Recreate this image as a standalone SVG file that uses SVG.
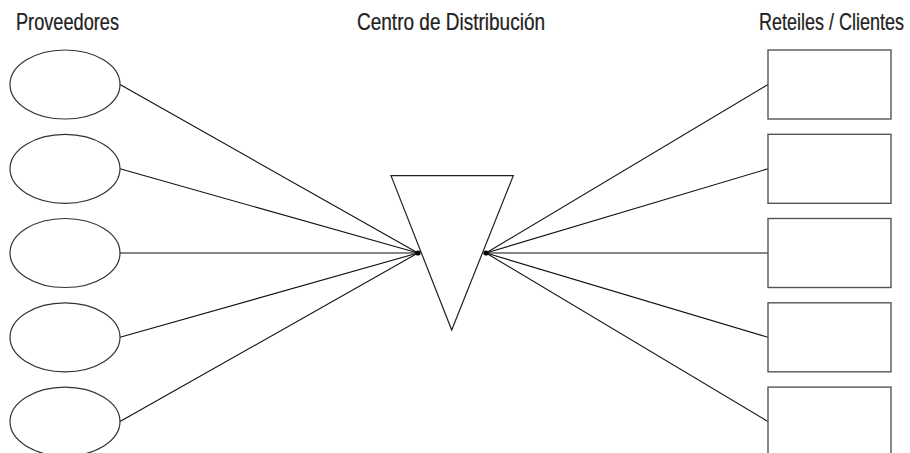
<svg xmlns="http://www.w3.org/2000/svg" width="910" height="453" viewBox="0 0 910 453">
<style>
.t{font-family:"Liberation Sans",Arial,sans-serif;font-size:23px;fill:#222;stroke:#222;stroke-width:0.25}
.e{fill:#fff;stroke:#333;stroke-width:1.2}
.r{fill:#fff;stroke:#555;stroke-width:1.4}
.c{stroke:#111;stroke-width:1.1;fill:none}
.d{fill:#000}
</style>
<rect width="910" height="453" fill="#fff"/>
<text class="t" transform="translate(16,30) scale(0.79,1)" textLength="130.4" lengthAdjust="spacingAndGlyphs">Proveedores</text>
<text class="t" transform="translate(357,30) scale(0.79,1)" textLength="238" lengthAdjust="spacingAndGlyphs">Centro de Distribución</text>
<text class="t" transform="translate(759,30) scale(0.79,1)" textLength="183.5" lengthAdjust="spacingAndGlyphs">Reteiles / Clientes</text>
<g id="connectors">
<line class="c" x1="120" y1="84.5" x2="418" y2="253"/>
<line class="c" x1="120" y1="168.8" x2="418" y2="253"/>
<line class="c" x1="120" y1="253" x2="418" y2="253"/>
<line class="c" x1="120" y1="337.3" x2="418" y2="253"/>
<line class="c" x1="120" y1="421.6" x2="418" y2="253"/>
<line class="c" x1="486" y1="253" x2="768" y2="84.5"/>
<line class="c" x1="486" y1="253" x2="768" y2="168.8"/>
<line class="c" x1="486" y1="253" x2="768" y2="253"/>
<line class="c" x1="486" y1="253" x2="768" y2="337.3"/>
<line class="c" x1="486" y1="253" x2="768" y2="421.6"/>
</g>
<g id="prov1"><ellipse class="e" cx="65" cy="84.5" rx="55" ry="34.5"/></g>
<g id="prov2"><ellipse class="e" cx="65" cy="168.8" rx="55" ry="34.5"/></g>
<g id="prov3"><ellipse class="e" cx="65" cy="253" rx="55" ry="34.5"/></g>
<g id="prov4"><ellipse class="e" cx="65" cy="337.3" rx="55" ry="34.5"/></g>
<g id="prov5"><ellipse class="e" cx="65" cy="421.6" rx="55" ry="34.5"/></g>
<g id="centro">
<polygon points="391,175.7 513.3,175.7 451.7,330" fill="#fff" stroke="#222" stroke-width="1.2"/>
<circle class="d" cx="418" cy="253" r="2.6"/>
<circle class="d" cx="486" cy="253" r="2.6"/>
</g>
<g id="cli1"><rect class="r" x="768" y="50" width="123" height="69"/></g>
<g id="cli2"><rect class="r" x="768" y="134.3" width="123" height="69"/></g>
<g id="cli3"><rect class="r" x="768" y="218.5" width="123" height="69"/></g>
<g id="cli4"><rect class="r" x="768" y="302.8" width="123" height="69"/></g>
<g id="cli5"><rect class="r" x="768" y="387.1" width="123" height="69"/></g>
</svg>
